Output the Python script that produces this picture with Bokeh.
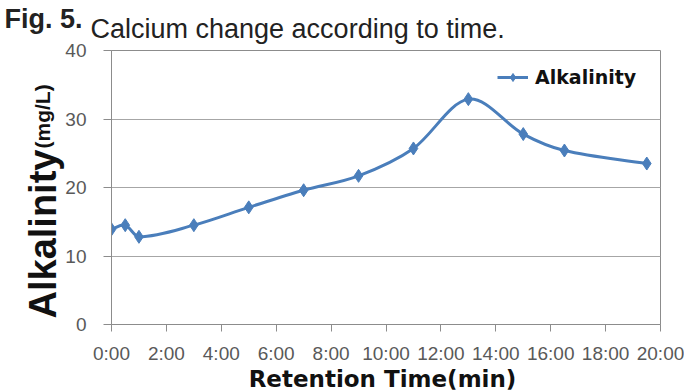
import numpy as np
from bokeh.plotting import figure
from bokeh.models import FixedTicker, Label, Legend, LegendItem, ColumnDataSource, Title
from bokeh.embed import file_html
from bokeh.resources import INLINE

# ---- data ----
time_min = [0, 0.5, 1, 3, 5, 7, 9, 11, 13, 15, 16.5, 19.5]
alkalinity = [13.9, 14.5, 12.8, 14.5, 17.1, 19.6, 21.7, 25.7, 32.9, 27.8, 25.4, 23.5]
x_ticks = [0, 2, 4, 6, 8, 10, 12, 14, 16, 18, 20]
x_tick_labels = ["0:00", "2:00", "4:00", "6:00", "8:00", "10:00", "12:00", "14:00", "16:00", "18:00", "20:00"]
y_ticks = [0, 10, 20, 30, 40]
series_name = "Alkalinity"

BLUE = "#4a7ebb"
GRID = "#a6a6a6"
AXIS = "#8c8c8c"
TICKC = "#595959"

p = figure(width=684, height=392, x_range=(0, 20), y_range=(0, 40),
           output_backend="svg", toolbar_location=None,
           min_border_left=111, min_border_right=24, min_border_top=50, min_border_bottom=67)
p.background_fill_color = "white"
p.border_fill_color = "white"
p.outline_line_color = AXIS
p.outline_line_width = 1

# axes
p.xaxis.ticker = FixedTicker(ticks=x_ticks)
p.xaxis.major_label_overrides = {t: l for t, l in zip(x_ticks, x_tick_labels)}
p.yaxis.ticker = FixedTicker(ticks=y_ticks)
for ax in (p.xaxis, p.yaxis):
    ax.axis_line_color = AXIS
    ax.major_tick_line_color = AXIS
    ax.minor_tick_line_color = None
    ax.major_tick_in = 0
    ax.major_label_text_color = TICKC
    ax.major_label_text_font = "Liberation Sans"
    ax.major_label_text_font_size = "19px"
p.xaxis.major_tick_out = 7
p.yaxis.major_tick_out = 8
p.xaxis.major_label_standoff = 11
p.yaxis.major_label_standoff = 17
p.xgrid.grid_line_color = None
p.ygrid.grid_line_color = GRID
p.ygrid.grid_line_width = 1

# smooth curve: cubic Hermite segments through the data points
x = np.array(time_min, dtype=float)
y = np.array(alkalinity, dtype=float)
n = len(x)
m = np.zeros(n)
for i in range(n):
    a = max(i - 1, 0)
    b = min(i + 1, n - 1)
    m[i] = (y[b] - y[a]) / (x[b] - x[a])
h = x[1:] - x[:-1]
src = ColumnDataSource(dict(
    x0=x[:-1], y0=y[:-1], x1=x[1:], y1=y[1:],
    cx0=x[:-1] + h / 3, cy0=y[:-1] + m[:-1] * h / 3,
    cx1=x[1:] - h / 3, cy1=y[1:] - m[1:] * h / 3,
))
bez = p.bezier(x0="x0", y0="y0", x1="x1", y1="y1", cx0="cx0", cy0="cy0", cx1="cx1", cy1="cy1",
               source=src, line_color=BLUE, line_width=3)
pts = p.scatter(time_min, alkalinity, marker="diamond", size=13, fill_color=BLUE, line_color=BLUE)

legend = Legend(items=[LegendItem(label=series_name, renderers=[bez, pts])],
                location=(386, 236), glyph_width=31, glyph_height=20, label_standoff=7,
                padding=0, margin=0, spacing=0, border_line_color=None, background_fill_alpha=0,
                label_text_font="DejaVu Sans", label_text_font_style="bold",
                label_text_font_size="19px", label_text_color="#111111")
p.add_layout(legend)


def canvas_label(side, cx, cy, text, **kw):
    # cx, cy: canvas pixel position measured from the top-left corner
    p.add_layout(Label(x=cx, y=cy, x_units="canvas", y_units="canvas", text=text, **kw), side)


# title
canvas_label("above", 90, 28, "Calcium change according to time.", text_font="Liberation Sans",
             text_font_size="27px", text_color="#222222", text_align="left", text_baseline="alphabetic")
try:
    fig_title = Title(text="Fig. 5.", align="left", offset=-107, standoff=-26, vertical_align="bottom",
                      text_font="Liberation Sans", text_font_style="bold", text_font_size="27px",
                      text_color="#222222")
    p.add_layout(fig_title, "above")
except Exception:
    canvas_label("above", 4, 28, "Fig. 5.", text_font="Liberation Sans", text_font_style="bold",
                 text_font_size="22px", text_color="#222222", text_align="left", text_baseline="alphabetic")

# y axis title
canvas_label("left", 42, 318, "Alkalinity", angle=90, angle_units="deg",
             text_font="Liberation Sans", text_font_style="bold", text_font_size="38px",
             text_color="#111111", text_align="left", text_baseline="alphabetic")
canvas_label("right", 42, 148, "(mg/L)", angle=90, angle_units="deg",
             text_font="Liberation Sans", text_font_style="bold", text_font_size="21px",
             text_color="#111111", text_align="left", text_baseline="alphabetic")

# x axis title
canvas_label("below", 382, 378, "Retention Time(min)",
             text_font="DejaVu Sans", text_font_style="bold", text_font_size="23px",
             text_color="#111111", text_align="center", text_baseline="alphabetic")

open("out.html", "w").write(file_html(p, INLINE))
